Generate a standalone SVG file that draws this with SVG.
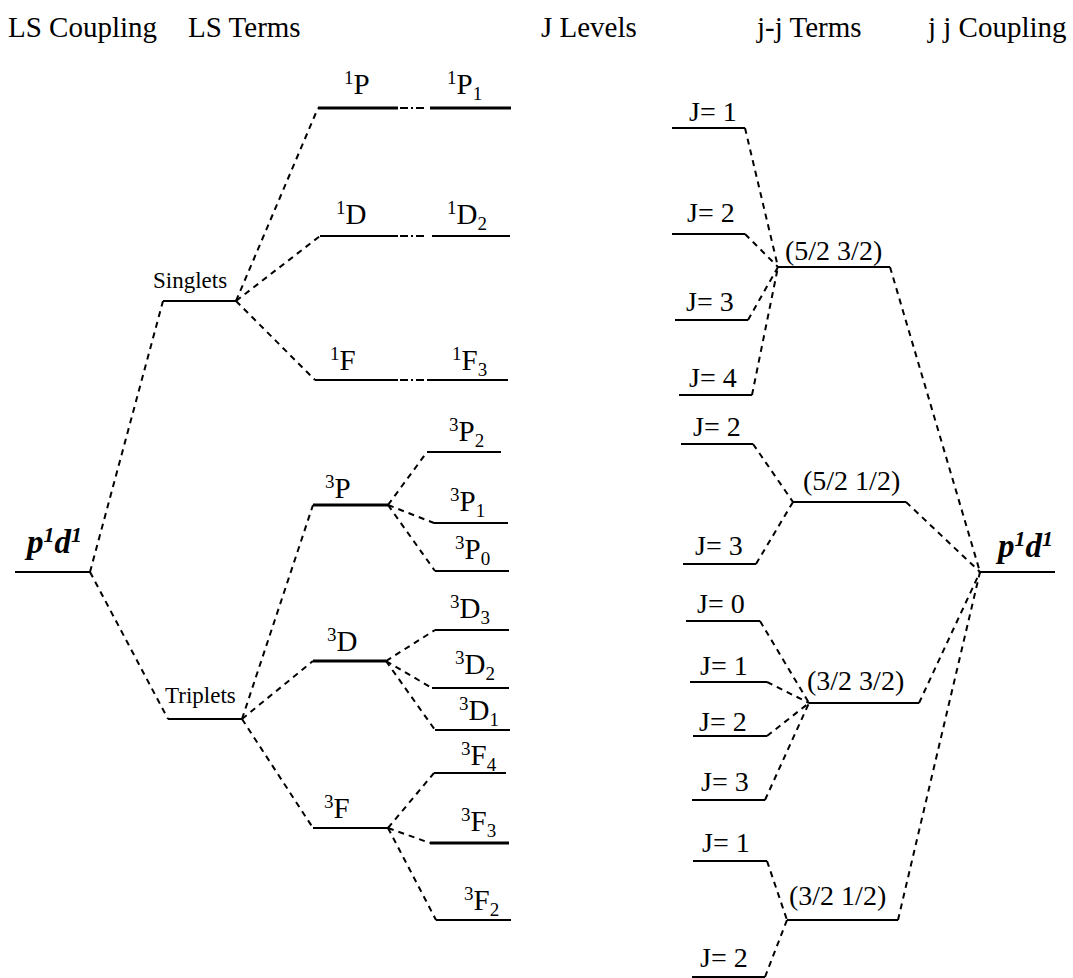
<svg xmlns="http://www.w3.org/2000/svg" width="1073" height="978" viewBox="0 0 1073 978" font-family="Liberation Serif, DejaVu Serif, serif">
<style>
text{font-family:'Liberation Serif','DejaVu Serif','Times New Roman',serif;fill:#000}
.h{font-size:29px}
.t{font-size:29px}
.s{font-size:23px}
.j{font-size:28px}
.pd{font-size:33px;font-weight:bold;font-style:italic}
.sup{font-size:19px}
.pds{font-size:22px}
.lv{stroke:#000;stroke-width:2;fill:none}
.lvb{stroke:#000;stroke-width:3;fill:none}
.d{stroke:#000;stroke-width:2;stroke-dasharray:6 5;fill:none}
.dd{stroke:#000;stroke-width:2;stroke-dasharray:8 3 2 3 8;fill:none}
</style>
<g id="headers">
<text class="h" x="8" y="37">LS Coupling</text>
<text class="h" x="188" y="37">LS Terms</text>
<text class="h" x="541" y="37">J Levels</text>
<text class="h" x="757" y="37">j-j Terms</text>
<text class="h" x="928" y="37">j j Coupling</text>
</g>
<g id="connectors">
<line class="d" x1="90" y1="572" x2="163" y2="301"/>
<line class="d" x1="90" y1="572" x2="168" y2="719"/>
<line class="d" x1="236" y1="301" x2="318" y2="108"/>
<line class="d" x1="236" y1="301" x2="320" y2="236"/>
<line class="d" x1="236" y1="301" x2="315" y2="380"/>
<line class="dd" x1="400" y1="108" x2="430" y2="108"/>
<line class="dd" x1="400" y1="236" x2="435" y2="236"/>
<line class="dd" x1="400" y1="380" x2="427" y2="380"/>
<line class="d" x1="242" y1="719" x2="313" y2="505"/>
<line class="d" x1="242" y1="719" x2="313" y2="661"/>
<line class="d" x1="242" y1="719" x2="313" y2="828"/>
<line class="d" x1="388" y1="505" x2="427" y2="452"/>
<line class="d" x1="388" y1="505" x2="434" y2="523"/>
<line class="d" x1="388" y1="505" x2="435" y2="571"/>
<line class="d" x1="386" y1="661" x2="435" y2="630"/>
<line class="d" x1="386" y1="661" x2="432" y2="688"/>
<line class="d" x1="386" y1="661" x2="435" y2="730"/>
<line class="d" x1="388" y1="828" x2="434" y2="773"/>
<line class="d" x1="388" y1="828" x2="430" y2="843"/>
<line class="d" x1="388" y1="828" x2="436" y2="920"/>
<line class="d" x1="745" y1="128" x2="778" y2="267"/>
<line class="d" x1="745" y1="234" x2="778" y2="267"/>
<line class="d" x1="748" y1="320" x2="778" y2="267"/>
<line class="d" x1="752" y1="395" x2="778" y2="267"/>
<line class="d" x1="753" y1="444" x2="793" y2="502"/>
<line class="d" x1="756" y1="564" x2="793" y2="502"/>
<line class="d" x1="760" y1="621" x2="809" y2="703"/>
<line class="d" x1="767" y1="682" x2="809" y2="703"/>
<line class="d" x1="767" y1="736" x2="809" y2="703"/>
<line class="d" x1="765" y1="800" x2="809" y2="703"/>
<line class="d" x1="767" y1="861" x2="787" y2="920"/>
<line class="d" x1="765" y1="977" x2="787" y2="920"/>
<line class="d" x1="890" y1="267" x2="980" y2="572"/>
<line class="d" x1="906" y1="502" x2="980" y2="572"/>
<line class="d" x1="919" y1="703" x2="980" y2="572"/>
<line class="d" x1="898" y1="920" x2="980" y2="572"/>
</g>
<g id="ls_p1d1"><line class="lv" x1="15" y1="572" x2="90" y2="572"/><text class="pd" x="27" y="553">p<tspan class="pds" dy="-11">1</tspan><tspan dy="11">d</tspan><tspan class="pds" dy="-11">1</tspan></text></g>
<g id="singlets"><line class="lv" x1="163" y1="301" x2="236" y2="301"/><text class="s" x="153" y="288">Singlets</text></g>
<g id="triplets"><line class="lv" x1="168" y1="719" x2="242" y2="719"/><text class="s" x="165" y="703">Triplets</text></g>
<g id="t1P"><line class="lvb" x1="318" y1="108" x2="398" y2="108"/><text class="t" x="344" y="94"><tspan class="sup" dy="-10">1</tspan><tspan dy="10">P</tspan></text></g>
<g id="t1P1"><line class="lvb" x1="430" y1="108" x2="511" y2="108"/><text class="t" x="447" y="94"><tspan class="sup" dy="-10">1</tspan><tspan dy="10">P</tspan><tspan class="sup" dy="6">1</tspan></text></g>
<g id="t1D"><line class="lv" x1="320" y1="236" x2="398" y2="236"/><text class="t" x="336" y="224"><tspan class="sup" dy="-10">1</tspan><tspan dy="10">D</tspan></text></g>
<g id="t1D2"><line class="lv" x1="435" y1="236" x2="510" y2="236"/><text class="t" x="447" y="224"><tspan class="sup" dy="-10">1</tspan><tspan dy="10">D</tspan><tspan class="sup" dy="6">2</tspan></text></g>
<g id="t1F"><line class="lv" x1="315" y1="380" x2="398" y2="380"/><text class="t" x="330" y="370"><tspan class="sup" dy="-10">1</tspan><tspan dy="10">F</tspan></text></g>
<g id="t1F3"><line class="lv" x1="427" y1="380" x2="508" y2="380"/><text class="t" x="452" y="370"><tspan class="sup" dy="-10">1</tspan><tspan dy="10">F</tspan><tspan class="sup" dy="6">3</tspan></text></g>
<g id="t3P"><line class="lvb" x1="313" y1="505" x2="388" y2="505"/><text class="t" x="325" y="498"><tspan class="sup" dy="-10">3</tspan><tspan dy="10">P</tspan></text></g>
<g id="t3P2"><line class="lv" x1="427" y1="452" x2="501" y2="452"/><text class="t" x="449" y="441"><tspan class="sup" dy="-10">3</tspan><tspan dy="10">P</tspan><tspan class="sup" dy="6">2</tspan></text></g>
<g id="t3P1"><line class="lv" x1="434" y1="523" x2="508" y2="523"/><text class="t" x="450" y="511"><tspan class="sup" dy="-10">3</tspan><tspan dy="10">P</tspan><tspan class="sup" dy="6">1</tspan></text></g>
<g id="t3P0"><line class="lv" x1="435" y1="571" x2="509" y2="571"/><text class="t" x="455" y="559"><tspan class="sup" dy="-10">3</tspan><tspan dy="10">P</tspan><tspan class="sup" dy="6">0</tspan></text></g>
<g id="t3D"><line class="lvb" x1="313" y1="661" x2="386" y2="661"/><text class="t" x="327" y="651"><tspan class="sup" dy="-10">3</tspan><tspan dy="10">D</tspan></text></g>
<g id="t3D3"><line class="lv" x1="435" y1="630" x2="509" y2="630"/><text class="t" x="450" y="618"><tspan class="sup" dy="-10">3</tspan><tspan dy="10">D</tspan><tspan class="sup" dy="6">3</tspan></text></g>
<g id="t3D2"><line class="lv" x1="432" y1="688" x2="509" y2="688"/><text class="t" x="455" y="674"><tspan class="sup" dy="-10">3</tspan><tspan dy="10">D</tspan><tspan class="sup" dy="6">2</tspan></text></g>
<g id="t3D1"><line class="lv" x1="435" y1="730" x2="510" y2="730"/><text class="t" x="459" y="720"><tspan class="sup" dy="-10">3</tspan><tspan dy="10">D</tspan><tspan class="sup" dy="6">1</tspan></text></g>
<g id="t3F"><line class="lv" x1="313" y1="828" x2="388" y2="828"/><text class="t" x="324" y="818"><tspan class="sup" dy="-10">3</tspan><tspan dy="10">F</tspan></text></g>
<g id="t3F4"><line class="lv" x1="434" y1="773" x2="506" y2="773"/><text class="t" x="461" y="765"><tspan class="sup" dy="-10">3</tspan><tspan dy="10">F</tspan><tspan class="sup" dy="6">4</tspan></text></g>
<g id="t3F3"><line class="lvb" x1="430" y1="843" x2="509" y2="843"/><text class="t" x="461" y="831"><tspan class="sup" dy="-10">3</tspan><tspan dy="10">F</tspan><tspan class="sup" dy="6">3</tspan></text></g>
<g id="t3F2"><line class="lv" x1="436" y1="920" x2="511" y2="920"/><text class="t" x="464" y="910"><tspan class="sup" dy="-10">3</tspan><tspan dy="10">F</tspan><tspan class="sup" dy="6">2</tspan></text></g>
<g id="J1a"><line class="lv" x1="672" y1="128" x2="745" y2="128"/><text class="j" x="689" y="121">J= 1</text></g>
<g id="J2a"><line class="lv" x1="672" y1="234" x2="745" y2="234"/><text class="j" x="687" y="222">J= 2</text></g>
<g id="J3a"><line class="lv" x1="675" y1="320" x2="748" y2="320"/><text class="j" x="686" y="311">J= 3</text></g>
<g id="J4a"><line class="lv" x1="679" y1="395" x2="752" y2="395"/><text class="j" x="689" y="387">J= 4</text></g>
<g id="jj52_32"><line class="lv" x1="778" y1="267" x2="890" y2="267"/><text class="j" x="785" y="260">(5/2 3/2)</text></g>
<g id="J2b"><line class="lv" x1="681" y1="444" x2="753" y2="444"/><text class="j" x="693" y="436">J= 2</text></g>
<g id="J3b"><line class="lv" x1="683" y1="564" x2="756" y2="564"/><text class="j" x="695" y="555">J= 3</text></g>
<g id="jj52_12"><line class="lv" x1="793" y1="502" x2="906" y2="502"/><text class="j" x="803" y="490">(5/2 1/2)</text></g>
<g id="J0c"><line class="lv" x1="686" y1="621" x2="760" y2="621"/><text class="j" x="697" y="613">J= 0</text></g>
<g id="J1c"><line class="lv" x1="690" y1="682" x2="767" y2="682"/><text class="j" x="700" y="675">J= 1</text></g>
<g id="J2c"><line class="lv" x1="693" y1="736" x2="767" y2="736"/><text class="j" x="699" y="731">J= 2</text></g>
<g id="J3c"><line class="lv" x1="692" y1="800" x2="765" y2="800"/><text class="j" x="701" y="791">J= 3</text></g>
<g id="jj32_32"><line class="lv" x1="809" y1="703" x2="919" y2="703"/><text class="j" x="807" y="690">(3/2 3/2)</text></g>
<g id="J1d"><line class="lv" x1="693" y1="861" x2="767" y2="861"/><text class="j" x="702" y="852">J= 1</text></g>
<g id="J2d"><line class="lv" x1="692" y1="977" x2="765" y2="977"/><text class="j" x="700" y="967">J= 2</text></g>
<g id="jj32_12"><line class="lv" x1="787" y1="920" x2="898" y2="920"/><text class="j" x="789" y="905">(3/2 1/2)</text></g>
<g id="jj_p1d1"><line class="lv" x1="980" y1="572" x2="1055" y2="572"/><text class="pd" x="998" y="557">p<tspan class="pds" dy="-11">1</tspan><tspan dy="11">d</tspan><tspan class="pds" dy="-11">1</tspan></text></g>
</svg>
